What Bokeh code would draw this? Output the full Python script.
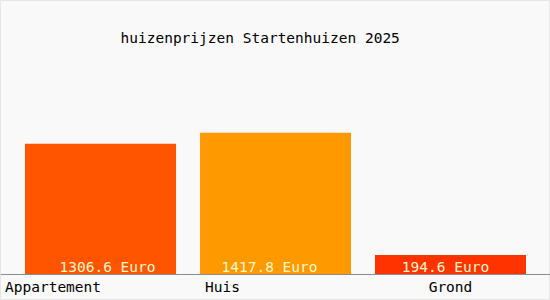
from bokeh.plotting import figure
from bokeh.models import FactorRange, Range1d, Span, Label, ColumnDataSource
from bokeh.core.properties import value
from bokeh.embed import file_html
from bokeh.resources import INLINE

categories = ["Appartement", "Huis", "Grond"]
prices = [1306.6, 1417.8, 194.6]
bar_labels = ["1306.6 Euro", "1417.8 Euro", "194.6 Euro"]
title_text = "huizenprijzen Startenhuizen 2025"

colors = ["#ff5500", "#ff9900", "#ff3300"]
cat_offsets = [-95.5, -70.5, 0]
cat_aligns = ["left", "left", "center"]
lab_offsets = [7, -6, -5]

FONT = "DejaVu Sans Mono"

p = figure(width=550, height=300, output_backend="svg", toolbar_location=None,
           x_range=FactorRange(factors=categories, range_padding=0.0477, range_padding_units="percent"),
           y_range=Range1d(-260, 2740), min_border=0,
           min_border_left=0, min_border_right=0, min_border_top=0, min_border_bottom=0)
p.axis.visible = False
p.grid.visible = False
p.background_fill_color = "#f9f9f9"
p.border_fill_color = "#f9f9f9"
p.outline_line_color = "#e6e6e6"

src = ColumnDataSource(dict(cat=categories, price=prices, lab=bar_labels, color=colors,
                            coff=cat_offsets, calign=cat_aligns, loff=lab_offsets))

p.vbar(x="cat", top="price", bottom=0, width=0.863, color="color", line_color=None, source=src)

p.add_layout(Span(location=0, dimension="width", line_color="#8c8c8c", line_width=1))

p.text(x="cat", y=0, text="lab", x_offset="loff", y_offset=-8, text_align="center",
       text_baseline="alphabetic", text_color="#fff8cc", text_font=value(FONT),
       text_font_size="14.5px", source=src)

p.text(x="cat", y=0, text="cat", x_offset="coff", y_offset=12, text_align="calign",
       text_baseline="alphabetic", text_color="#000000", text_font=value(FONT),
       text_font_size="14.5px", source=src)

p.add_layout(Label(x=120, y=300 - 37, x_units="screen", y_units="screen", text=title_text,
                   text_font=FONT, text_font_size="14.5px", text_color="#000000",
                   text_baseline="alphabetic", text_align="left"))

open("out.html", "w").write(file_html(p, INLINE))
